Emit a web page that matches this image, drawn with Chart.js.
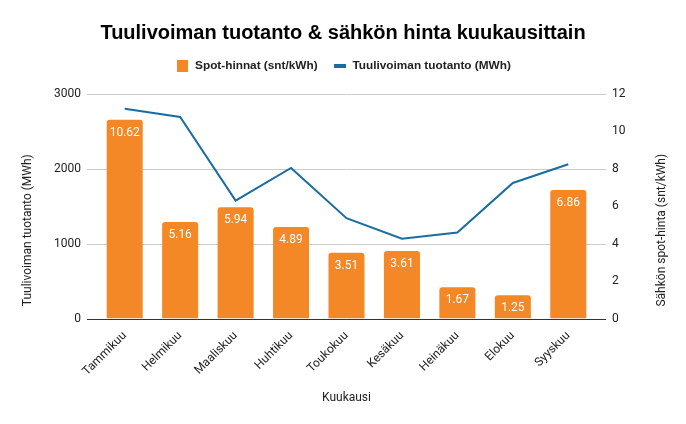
<!DOCTYPE html>
<html>
<head>
<meta charset="utf-8">
<script src="https://cdn.jsdelivr.net/npm/chart.js@4"></script>
<style>
  html, body { margin: 0; padding: 0; background: #fff; }
  #wrap { width: 686px; height: 424px; }
</style>
</head>
<body>
<div id="wrap"><canvas id="windChart" width="686" height="424"></canvas></div>
<script>
// kuukausittaiset arvot
const months = ['Tammikuu', 'Helmikuu', 'Maaliskuu', 'Huhtikuu', 'Toukokuu', 'Kesäkuu', 'Heinäkuu', 'Elokuu', 'Syyskuu'];
const spotPrices = [10.62, 5.16, 5.94, 4.89, 3.51, 3.61, 1.67, 1.25, 6.86];
const windProduction = [2800, 2690, 1575, 2010, 1340, 1065, 1150, 1810, 2060];
const leftTicks = [0, 1000, 2000, 3000];
const rightTicks = [0, 2, 4, 6, 8, 10, 12];

const ORANGE = '#f48826';
const BLUE = '#1a6e9f';
const TEXT = '#222';

// small canvases used as legend markers
function marker(w, h, color) {
  const c = document.createElement('canvas');
  c.width = w;
  c.height = h;
  const g = c.getContext('2d');
  g.fillStyle = color;
  g.fillRect(0, 0, w, h);
  return c;
}
const barMarker = marker(11, 12, ORANGE);
const lineMarker = marker(12, 4, BLUE);

// white value labels inside the top of each bar
const barLabels = {
  id: 'barLabels',
  afterDatasetsDraw(chart) {
    const meta = chart.getDatasetMeta(0);
    const c = chart.ctx;
    c.save();
    c.fillStyle = '#fff';
    c.font = '12px Roboto';
    c.textAlign = 'center';
    c.textBaseline = 'middle';
    meta.data.forEach((bar, i) => {
      c.fillText(spotPrices[i].toFixed(2), bar.x, bar.y + 13);
    });
    c.restore();
  }
};

// gridlines that run a bit past the bars, like the original chart
const gridLines = {
  id: 'gridLines',
  beforeDatasetsDraw(chart) {
    const { ctx: c, chartArea: a } = chart;
    const y = chart.scales.yWind;
    c.save();
    c.lineWidth = 1;
    leftTicks.forEach(v => {
      const py = Math.round(y.getPixelForValue(v)) + 0.5;
      c.strokeStyle = v === 0 ? '#333' : '#cccccc';
      c.beginPath();
      c.moveTo(a.left - 10, py);
      c.lineTo(a.right + 10, py);
      c.stroke();
    });
    c.restore();
  },
  afterDatasetsDraw(chart) {
    // baseline again over the bars
    const { ctx: c, chartArea: a } = chart;
    const py = Math.round(chart.scales.yWind.getPixelForValue(0)) + 0.5;
    c.save();
    c.strokeStyle = '#333';
    c.beginPath();
    c.moveTo(a.left - 10, py);
    c.lineTo(a.right + 10, py);
    c.stroke();
    c.restore();
  }
};

// both vertical axis titles read bottom to top
const axisTitles = {
  id: 'axisTitles',
  afterDraw(chart) {
    const { ctx: c, chartArea: a, scales } = chart;
    const cy = (a.top + a.bottom) / 2 + 24;
    const draw = (text, x) => {
      c.save();
      c.translate(x, cy);
      c.rotate(-Math.PI / 2);
      c.fillStyle = TEXT;
      c.font = '12px Roboto';
      c.textAlign = 'center';
      c.textBaseline = 'middle';
      c.fillText(text, 0, 0);
      c.restore();
    };
    draw('Tuulivoiman tuotanto (MWh)', scales.yWind.left + 28);
    draw('Sähkön spot-hinta (snt/kWh)', scales.yPrice.right - 24);
  }
};

// extra room between legend and plot
const legendGap = {
  id: 'legendGap',
  beforeLayout(chart) {
    const lg = chart.legend;
    if (lg && !lg._gapPatched) {
      const fit = lg.fit;
      lg.fit = function () {
        fit.call(this);
        this.height += 12;
      };
      lg._gapPatched = true;
    }
  }
};

function initChart() {
  const ctx = document.getElementById('windChart');
  if (!ctx) return;

  new Chart(ctx, {
    type: 'bar',
    data: {
      labels: months,
      datasets: [{
        type: 'bar',
        label: 'Spot-hinnat (snt/kWh)',
        data: spotPrices,
        yAxisID: 'yPrice',
        backgroundColor: ORANGE,
        borderRadius: 3,
        borderSkipped: 'bottom',
        categoryPercentage: 1,
        barPercentage: 0.65,
        pointStyle: barMarker,
        order: 2
      }, {
        type: 'line',
        label: 'Tuulivoiman tuotanto (MWh)',
        data: windProduction,
        yAxisID: 'yWind',
        borderColor: BLUE,
        backgroundColor: BLUE,
        borderWidth: 2,
        pointRadius: 0,
        pointStyle: lineMarker,
        tension: 0,
        order: 1
      }]
    },
    options: {
      responsive: false,
      animation: false,
      layout: { padding: { left: 0, right: 0, top: 10, bottom: 19 } },
      plugins: {
        title: {
          display: true,
          text: 'Tuulivoiman tuotanto & sähkön hinta kuukausittain',
          color: '#000',
          font: { family: 'Liberation Sans', size: 20, weight: 'bold', lineHeight: 1.2 },
          padding: { top: 11, bottom: 0 }
        },
        legend: {
          position: 'top',
          labels: {
            usePointStyle: true,
            pointStyleWidth: 14,
            color: TEXT,
            font: { family: 'Liberation Sans', size: 11.8, weight: 'bold' },
            padding: 15,
            generateLabels: chart => chart.data.datasets.map((ds, i) => ({
              text: ds.label,
              fillStyle: ds.backgroundColor,
              strokeStyle: ds.backgroundColor,
              lineWidth: 0,
              pointStyle: ds.pointStyle,
              fontColor: TEXT,
              datasetIndex: i,
              hidden: false
            }))
          }
        },
        tooltip: { enabled: false }
      },
      scales: {
        x: {
          grid: { display: false },
          border: { display: false },
          ticks: {
            color: TEXT,
            font: { family: 'Roboto', size: 12 },
            maxRotation: 45,
            minRotation: 45,
            padding: 2
          },
          title: {
            display: true,
            text: 'Kuukausi',
            color: TEXT,
            font: { family: 'Roboto', size: 12 },
            padding: { top: 10, bottom: 0 }
          }
        },
        yWind: {
          position: 'left',
          min: 0,
          max: 3000,
          afterBuildTicks: axis => { axis.ticks = leftTicks.map(v => ({ value: v })); },
          afterFit: axis => { axis.width = 97; },
          grid: { display: false, drawTicks: false },
          border: { display: false },
          ticks: {
            color: TEXT,
            font: { family: 'Roboto', size: 12 },
            padding: 16,
            callback: v => String(v)
          }
        },
        yPrice: {
          position: 'right',
          min: 0,
          max: 12,
          afterBuildTicks: axis => { axis.ticks = rightTicks.map(v => ({ value: v })); },
          afterFit: axis => { axis.width = 90; },
          grid: { display: false, drawTicks: false },
          border: { display: false },
          ticks: {
            color: TEXT,
            font: { family: 'Roboto', size: 12 },
            padding: 16,
            callback: v => String(v)
          }
        }
      }
    },
    plugins: [gridLines, barLabels, axisTitles, legendGap]
  });
}

initChart();
</script>
</body>
</html>
